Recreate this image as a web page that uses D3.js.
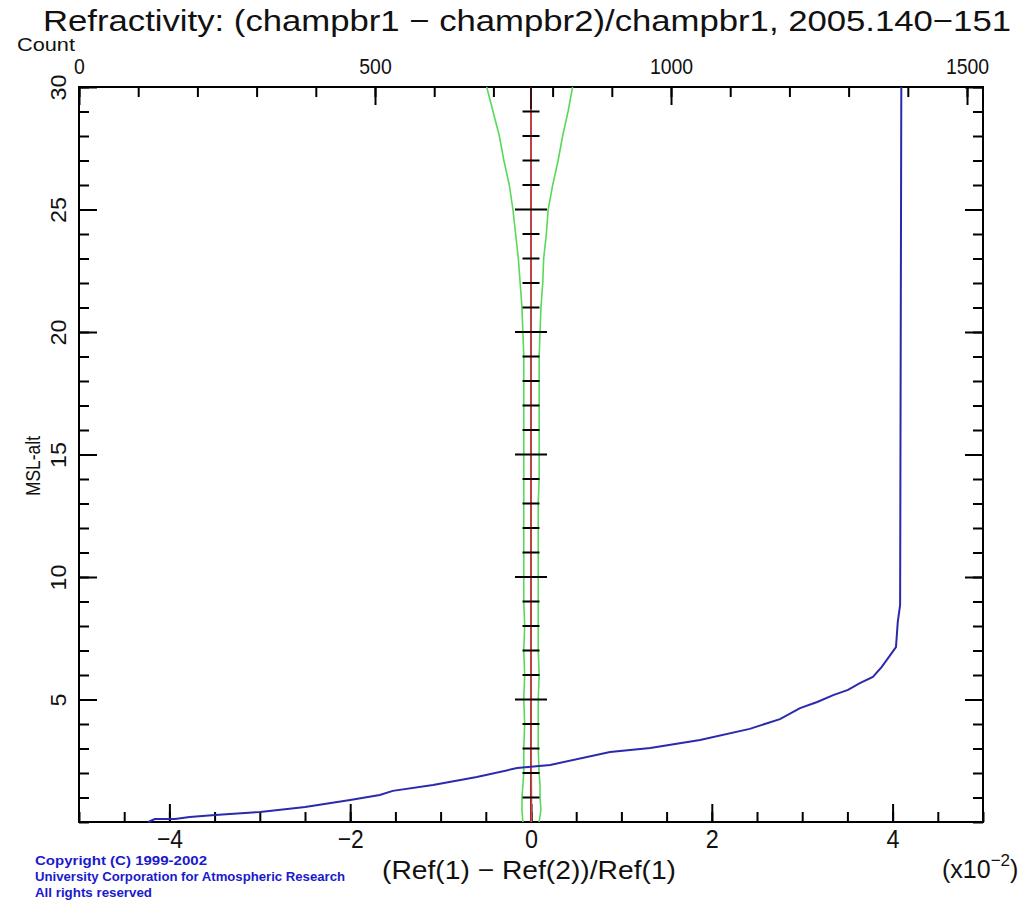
<!DOCTYPE html>
<html><head><meta charset="utf-8">
<script src="https://cdn.jsdelivr.net/npm/d3@7"></script>
<style>body{margin:0;background:#fff}</style>
</head><body>
<svg id="c" width="1030" height="903"></svg>
<script>
// ---- data ----
const titleText = "Refractivity:  (champbr1 \u2212 champbr2)/champbr1, 2005.140\u2212151";
const xLabelText = "(Ref(1) \u2212 Ref(2))/Ref(1)";
const yLabelText = "MSL-alt";
const countLabelText = "Count";
const copyrightLines = ["Copyright (C) 1999-2002", "University Corporation for Atmospheric Research", "All rights reserved"];

const xMinorTicks = d3.range(-5, 5.001, 0.5);
const xMajorTicks = [-4, -2, 0, 2, 4];
const countMinorTicks = d3.range(0, 1501, 100);
const countMajorTicks = [0, 500, 1000, 1500];
const altMinorTicks = d3.range(0, 31, 1);
const altMajorTicks = [5, 10, 15, 20, 25, 30];
const centerTicks = d3.range(1, 30, 1);

// blue: number of profiles (count) vs altitude
const blueAlt   = [0, 0.12, 0.12, 0.2, 0.29, 0.41, 0.61, 0.9, 1.1, 1.27, 1.51, 1.84, 2.2, 2.33, 2.86, 3.02, 3.35, 3.8, 4.2, 4.65, 4.9, 5.18, 5.39, 5.67, 5.92, 6.33, 6.9, 7.14, 8.16, 8.86, 30];
const blueCount = [117, 128, 162, 187, 230, 306, 382, 458, 508, 530, 598, 672, 740, 796, 897, 965, 1049, 1133, 1184, 1218, 1247, 1274, 1299, 1319, 1341, 1356, 1373, 1380, 1383, 1387, 1389];

// green: mean -/+ standard deviation (x10^-2) vs altitude
const statAlt    = [0, 0.5, 1, 1.5, 2, 3, 4, 5, 6, 7, 8, 9, 10, 11, 12, 13, 14, 15, 16, 17, 18, 19, 20, 21, 22, 23, 24, 25, 26, 27, 28, 29, 30];
const greenLeft  = [-0.09, -0.1, -0.1, -0.09, -0.08, -0.08, -0.07, -0.08, -0.07, -0.08, -0.07, -0.08, -0.08, -0.08, -0.08, -0.08, -0.08, -0.08, -0.08, -0.08, -0.08, -0.08, -0.09, -0.1, -0.12, -0.14, -0.17, -0.2, -0.24, -0.3, -0.35, -0.42, -0.49];
const greenRight = [0.09, 0.11, 0.1, 0.1, 0.09, 0.08, 0.08, 0.08, 0.09, 0.08, 0.08, 0.08, 0.08, 0.08, 0.08, 0.08, 0.09, 0.09, 0.09, 0.09, 0.09, 0.09, 0.1, 0.11, 0.13, 0.14, 0.17, 0.19, 0.24, 0.3, 0.35, 0.41, 0.46];
// red: mean (x10^-2) vs altitude
const redAlt  = [0, 1, 2, 3, 5, 10, 15, 20, 25, 29.1];
const redMean = [0.003, 0.004, 0.002, 0.001, 0, 0, 0, 0, 0, 0];

// ---- drawing ----
const svg = d3.select("#c");
const FONT = "'Liberation Sans', Arimo, sans-serif";
const box = {l: 79, r: 983, t: 87, b: 822};
const x  = d3.scaleLinear().domain([-5, 5]).range([box.l, box.r]);
const y  = d3.scaleLinear().domain([0, 30]).range([box.b, box.t]);
const xc = d3.scaleLinear().domain([0, 1527]).range([box.l, box.r]);
const fmt = d => d < 0 ? "\u2212" + Math.abs(d) : String(d);

function styleAxis(g, size, charW) {
  g.select(".domain").remove();
  g.selectAll(".tick line").attr("stroke", "#000").attr("stroke-width", 2);
  g.attr("font-family", FONT).attr("font-size", size || 10);
  g.selectAll(".tick text").attr("fill", "#111");
  if (charW) {
    g.selectAll(".tick text").each(function () {
      const t = d3.select(this);
      t.attr("textLength", t.text().length * charW).attr("lengthAdjust", "spacingAndGlyphs");
    });
  }
}

// bottom
let g = svg.append("g").attr("transform", `translate(0,${box.b})`)
  .call(d3.axisBottom(x).tickValues(xMinorTicks).tickSize(-10).tickFormat(""));
styleAxis(g);
g = svg.append("g").attr("transform", `translate(0,${box.b})`)
  .call(d3.axisBottom(x).tickValues(xMajorTicks).tickSize(-18).tickPadding(8).tickFormat(fmt));
styleAxis(g, 26, 13);
// top (count)
g = svg.append("g").attr("transform", `translate(0,${box.t})`)
  .call(d3.axisTop(xc).tickValues(countMinorTicks).tickSize(-10).tickFormat(""));
styleAxis(g);
g = svg.append("g").attr("transform", `translate(0,${box.t})`)
  .call(d3.axisTop(xc).tickValues(countMajorTicks).tickSize(-18).tickPadding(13).tickFormat(d3.format("d")));
styleAxis(g, 22, 10.8);
// left
g = svg.append("g").attr("transform", `translate(${box.l},0)`)
  .call(d3.axisLeft(y).tickValues(altMinorTicks).tickSize(-10).tickFormat(""));
styleAxis(g);
g = svg.append("g").attr("transform", `translate(${box.l},0)`)
  .call(d3.axisLeft(y).tickValues(altMajorTicks).tickSize(-18).tickFormat(d3.format("d")));
styleAxis(g, 22, 13);
g.selectAll(".tick text").attr("x", null).attr("dy", null)
  .attr("text-anchor", "middle").attr("transform", "translate(-13,0) rotate(-90)");
// right
g = svg.append("g").attr("transform", `translate(${box.r},0)`)
  .call(d3.axisRight(y).tickValues(altMinorTicks).tickSize(-10).tickFormat(""));
styleAxis(g);
g = svg.append("g").attr("transform", `translate(${box.r},0)`)
  .call(d3.axisRight(y).tickValues(altMajorTicks).tickSize(-18).tickFormat(""));
styleAxis(g);

// frame
svg.append("rect").attr("x", box.l).attr("y", box.t)
  .attr("width", box.r - box.l).attr("height", box.b - box.t)
  .attr("fill", "none").attr("stroke", "#000").attr("stroke-width", 2);

// green std lines
const lineStat = (vals) => d3.line().x((d, i) => x(vals[i])).y((d, i) => y(statAlt[i]));
svg.append("path").datum(statAlt).attr("d", lineStat(greenLeft))
  .attr("fill", "none").attr("stroke", "#5ad85a").attr("stroke-width", 1.6);
svg.append("path").datum(statAlt).attr("d", lineStat(greenRight))
  .attr("fill", "none").attr("stroke", "#5ad85a").attr("stroke-width", 1.6);

// center axis line
svg.append("line").attr("x1", x(0)).attr("x2", x(0)).attr("y1", y(0)).attr("y2", y(30))
  .attr("stroke", "#3a1010").attr("stroke-width", 2);
// red mean
svg.append("path").datum(redAlt)
  .attr("d", d3.line().x((d, i) => x(redMean[i])).y((d, i) => y(redAlt[i])))
  .attr("fill", "none").attr("stroke", "#d04848").attr("stroke-width", 1.8);
// center ticks
svg.append("g").selectAll("line").data(centerTicks).join("line")
  .attr("x1", d => x(0) - (d % 5 === 0 ? 16 : 8.5))
  .attr("x2", d => x(0) + (d % 5 === 0 ? 16 : 8.5))
  .attr("y1", d => y(d)).attr("y2", d => y(d))
  .attr("stroke", "#000").attr("stroke-width", 2);

// blue count line
svg.append("path").datum(blueAlt)
  .attr("d", d3.line().x((d, i) => xc(blueCount[i])).y((d, i) => y(blueAlt[i])))
  .attr("fill", "none").attr("stroke", "#2a2aae").attr("stroke-width", 2);

// texts
svg.append("text").attr("x", 43).attr("y", 31).attr("font-family", FONT).attr("font-size", 30)
  .attr("textLength", 968).attr("lengthAdjust", "spacingAndGlyphs").attr("fill", "#111").text(titleText);
svg.append("text").attr("x", 17).attr("y", 51).attr("font-family", FONT).attr("font-size", 19)
  .attr("textLength", 58).attr("lengthAdjust", "spacingAndGlyphs")
  .attr("fill", "#111").text(countLabelText);
svg.append("text").attr("x", 529).attr("y", 879).attr("text-anchor", "middle")
  .attr("font-family", FONT).attr("font-size", 26).attr("textLength", 294).attr("lengthAdjust", "spacingAndGlyphs")
  .attr("fill", "#111").text(xLabelText);
svg.append("text").attr("transform", "translate(40,466) rotate(-90)").attr("text-anchor", "middle")
  .attr("font-family", FONT).attr("font-size", 21).attr("textLength", 60).attr("lengthAdjust", "spacingAndGlyphs")
  .attr("fill", "#111").text(yLabelText);
const ex = svg.append("text").attr("x", 942).attr("y", 878).attr("font-family", FONT).attr("font-size", 25).attr("fill", "#111");
ex.append("tspan").text("(x10");
ex.append("tspan").attr("dy", -12).attr("font-size", 17).text("\u22122");
ex.append("tspan").attr("dy", 12).text(")");

const cw = [172, 310, 117];
svg.append("g").selectAll("text").data(copyrightLines).join("text")
  .attr("x", 35).attr("y", (d, i) => 865 + i * 16)
  .attr("font-family", FONT).attr("font-size", 12).attr("font-weight", "bold")
  .attr("textLength", (d, i) => cw[i]).attr("lengthAdjust", "spacingAndGlyphs")
  .attr("fill", "#1a1acc").text(d => d);
</script>
</body></html>
